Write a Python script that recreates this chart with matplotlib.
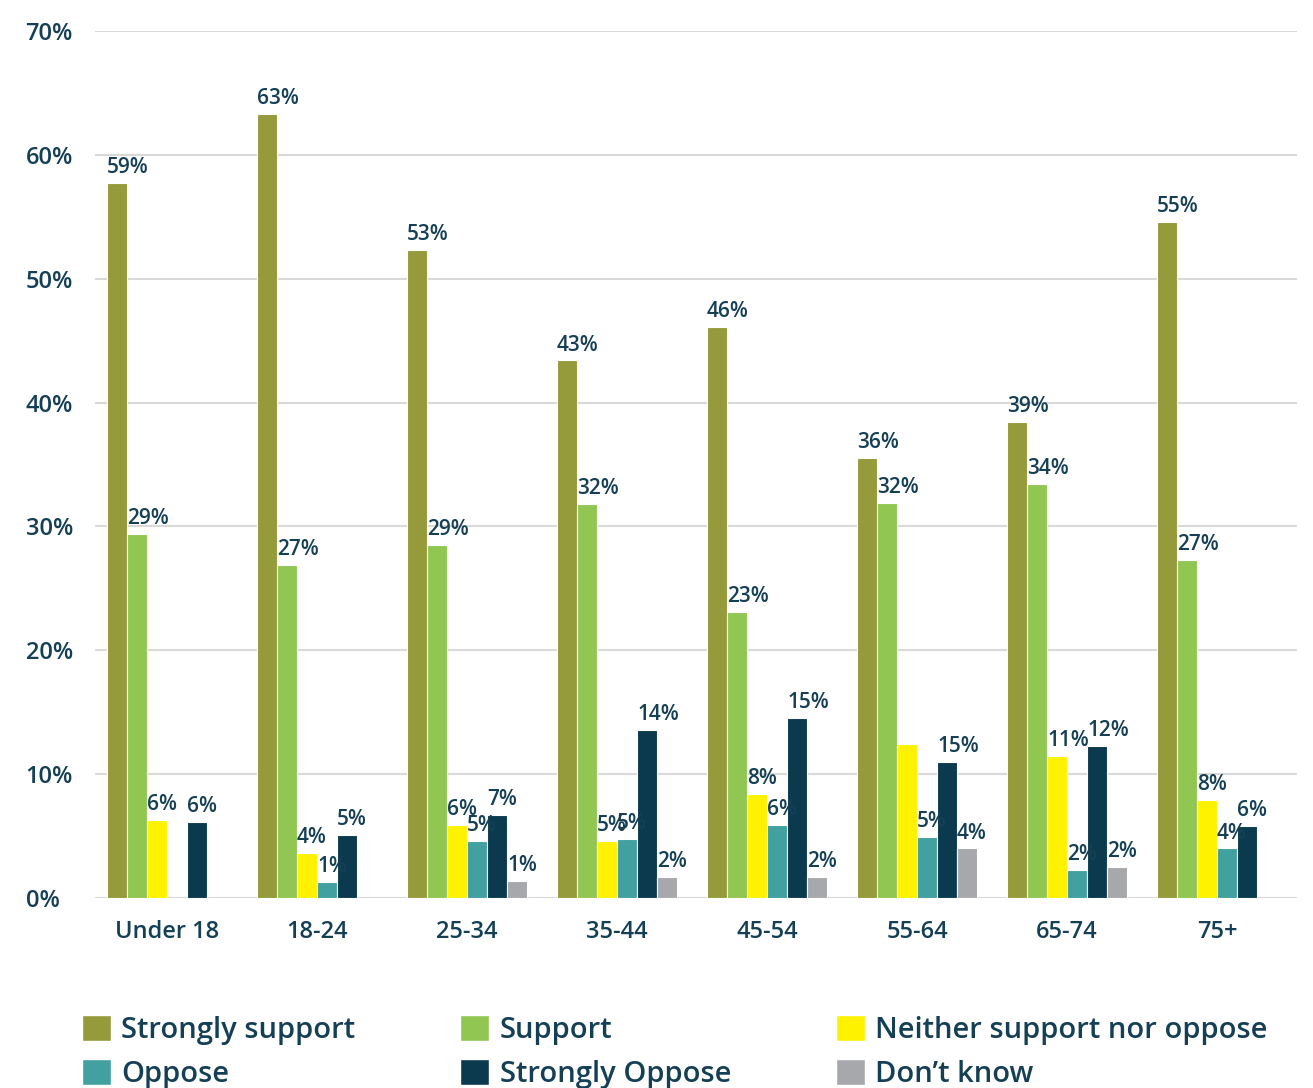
import numpy as np
import matplotlib
matplotlib.use("Agg")
import matplotlib.pyplot as plt
from matplotlib.patches import Patch

plt.rcParams['font.family'] = ['Open Sans', 'DejaVu Sans']

categories = ["Under 18", "18-24", "25-34", "35-44", "45-54", "55-64", "65-74", "75+"]
series_names = ["Strongly support", "Support", "Neither support nor oppose",
                "Oppose", "Strongly Oppose", "Don\u2019t know"]
colors = ["#959a3a", "#92c653", "#fff200", "#42a0a0", "#0b3a4f", "#a7a8ab"]

strongly_support = [57.7, 63.3, 52.3, 43.4, 46.1, 35.5, 38.4, 54.6]
support = [29.4, 26.9, 28.5, 31.8, 23.1, 31.9, 33.4, 27.3]
neither = [6.3, 3.6, 5.9, 4.6, 8.4, 12.4, 11.5, 7.9]
oppose = [np.nan, 1.3, 4.6, 4.8, 5.9, 4.9, 2.3, 4.0]
strongly_oppose = [6.1, 5.1, 6.7, 13.6, 14.5, 11.0, 12.3, 5.8]
dont_know = [np.nan, np.nan, 1.4, 1.7, 1.7, 4.0, 2.5, np.nan]

lbl_strongly_support = ["59%", "63%", "53%", "43%", "46%", "36%", "39%", "55%"]
lbl_support = ["29%", "27%", "29%", "32%", "23%", "32%", "34%", "27%"]
lbl_neither = ["6%", "4%", "6%", "5%", "8%", "", "11%", "8%"]
lbl_oppose = ["", "1%", "5%", "5%", "6%", "5%", "2%", "4%"]
lbl_strongly_oppose = ["6%", "5%", "7%", "14%", "15%", "15%", "12%", "6%"]
lbl_dont_know = ["", "", "1%", "2%", "2%", "4%", "2%", ""]

y_ticks = [0, 10, 20, 30, 40, 50, 60, 70]
y_ticklabels = ["0%", "10%", "20%", "30%", "40%", "50%", "60%", "70%"]

series = [strongly_support, support, neither, oppose, strongly_oppose, dont_know]
labels = [lbl_strongly_support, lbl_support, lbl_neither, lbl_oppose,
          lbl_strongly_oppose, lbl_dont_know]

text_color = "#143f55"
W, H = 1313, 1088
fig = plt.figure(figsize=(W / 100, H / 100), dpi=100)
ax = fig.add_axes([95 / W, 1 - 898 / H, (1297 - 95) / W, (898 - 31) / H])

x = np.arange(len(categories))
width = 20 / 150
for j, (vals, labs, c) in enumerate(zip(series, labels, colors)):
    xpos = x + (j - 2.5) * width
    ax.bar(xpos, vals, width=width, color=c, edgecolor="white", linewidth=0.8,
           zorder=3)
    for xi, v, lab in zip(xpos, vals, labs):
        if lab and not np.isnan(v):
            ax.text(xi - width / 2, v + 0.4, lab, ha="left", va="bottom",
                    fontsize=15, fontweight="semibold", color=text_color,
                    zorder=4)

ax.set_xlim(-0.48, 7.533)
ax.set_ylim(0, 70)
ax.set_yticks(y_ticks)
ax.set_yticklabels(y_ticklabels)
ax.set_xticks(x)
ax.set_xticklabels(categories)
ax.grid(axis="y", color="#d9d9d9", linewidth=1.5, zorder=0)
ax.set_axisbelow(True)
for s in ax.spines.values():
    s.set_visible(False)
ax.tick_params(axis="both", length=0)
ax.tick_params(axis="y", pad=50, labelsize=17, labelcolor=text_color)
ax.tick_params(axis="x", pad=16, labelsize=17, labelcolor=text_color)
for t in ax.get_yticklabels():
    t.set_horizontalalignment("left")
    t.set_fontweight("semibold")
for t in ax.get_xticklabels():
    t.set_fontweight("semibold")

order = [0, 3, 1, 4, 2, 5]
handles = [Patch(facecolor=colors[i], edgecolor="white") for i in order]
names = [series_names[i] for i in order]
leg = fig.legend(handles, names, ncol=3, loc="upper left",
                 bbox_to_anchor=(70 / W, 1 - 1003 / H), frameon=False,
                 fontsize=21, handlelength=1.0, handleheight=1.0,
                 handletextpad=0.35, columnspacing=3.6, labelspacing=0.5,
                 borderaxespad=0)
for t in leg.get_texts():
    t.set_color(text_color)
    t.set_fontweight("semibold")

fig.savefig("out.png", dpi=100)
